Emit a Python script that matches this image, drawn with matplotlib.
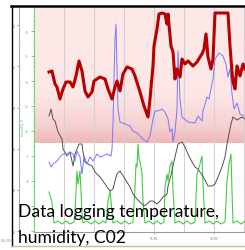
import matplotlib.pyplot as plt
import numpy as np
from matplotlib.colors import LinearSegmentedColormap
from matplotlib.lines import Line2D

# time in hours since start of logging, values on the humidity (green) scale
red_t = [12, 14.4, 16.8, 18.4, 20.8, 23.2, 25.6, 28.8, 31.2, 33.6, 36.0, 38.4, 40.8, 43.2,
         46.4, 48.0, 52.8, 56.8, 59.2, 62.4, 64.8, 66.4, 68.8, 71.2, 74.4, 78.4, 80.8, 84.8,
         88.0, 91.2, 92.8, 95.2, 96.0, 98.4, 100.0, 102.4, 104.8, 106.4, 107.2, 109.6, 111.2,
         112.8, 114.4, 116.8, 118.4, 120.8, 123.2, 127.2, 130.4, 132.8, 134.4, 136.0, 137.6,
         139.2, 141.6, 143.2, 144.8, 155.2, 156.8, 158.4, 159.2, 160.8, 162.4, 164.8, 167.2, 168.8]
red_v = [31.8, 32.0, 29.4, 28.8, 26.4, 28.4, 29.8, 29.8, 28.8, 31.0, 34.0, 32.0, 28.0, 26.8,
         27.8, 30.0, 30.8, 30.4, 28.4, 26.4, 28.8, 30.0, 28.0, 31.4, 32.8, 32.4, 31.0, 27.8,
         25.0, 22.8, 26.4, 33.0, 37.0, 40.4, 43.4, 43.6, 43.4, 41.4, 43.4, 37.0, 35.8,
         30.4, 32.4, 30.8, 34.4, 33.4, 34.0, 33.0, 33.8, 34.8, 35.4, 36.4, 39.4,
         34.8, 32.4, 34.4, 43.6, 43.6, 37.0, 31.8, 29.8, 28.4, 33.0, 31.0, 33.4, 32.4]

blue_t = [12, 13.6, 15.2, 18.4, 20.8, 23.2, 26.4, 28.8, 31.2, 32.8, 34.4, 36.8, 38.4, 40.0,
          42.4, 44.8, 47.2, 50.4, 52.8, 55.2, 58.4, 61.6, 62.4, 63.2, 64.0, 64.8, 65.6, 66.4,
          67.2, 68.8, 72.8, 76.8, 79.2, 82.4, 84.8, 87.2, 90.4, 92.8, 95.2, 96.8, 99.2, 102.4,
          104.8, 107.2, 108.8, 110.4, 111.2, 112.8, 114.4, 115.2, 116.8, 118.4, 123.2, 128.8,
          131.2, 134.4, 135.2, 138.4, 140.0, 143.2, 144.8, 146.4, 148.0, 151.2, 153.6, 155.2,
          156.8, 158.4, 160.0, 162.4, 164.8, 168.0]
blue_v = [13.8, 12.8, 13.4, 14.0, 14.8, 15.4, 15.4, 15.8, 15.4, 14.0, 16.0, 14.8, 11.4, 15.0,
          13.4, 14.8, 14.0, 15.4, 14.8, 15.0, 15.4, 15.0, 16.4, 21.4, 30.4, 38.4, 41.4, 32.4,
          24.4, 21.8, 21.4, 21.0, 20.0, 19.6, 19.0, 18.4, 17.8, 19.0, 22.4, 24.0, 24.0, 24.4,
          23.8, 22.4, 19.8, 20.4, 17.8, 19.8, 24.4, 36.0, 26.4, 22.8, 21.8, 21.6,
          23.0, 22.0, 24.0, 26.8, 26.4, 30.4, 34.4, 35.0, 35.6, 35.0, 33.4, 30.8,
          32.4, 27.4, 24.4, 25.6, 23.4, 23.0]

gray_t = [12, 13.6, 15.2, 16.8, 19.2, 22.4, 23.2, 26.4, 28.8, 31.2, 32.8, 34.4, 36.0, 38.4,
          39.2, 40.8, 43.2, 46.4, 48.8, 52.8, 55.2, 58.4, 60.8, 63.2, 64.8, 66.4, 68.8, 72.8,
          76.8, 79.2, 82.4, 84.8, 88.0, 90.4, 92.8, 95.2, 98.4, 100.8, 103.2, 106.4, 107.2,
          108.8, 110.4, 112.8, 115.2, 118.4, 120.8, 123.2, 126.4, 128.8, 131.2, 134.4, 136.8,
          139.2, 142.4, 144.8, 147.2, 150.4, 152.8, 154.4, 156.0, 157.6, 159.2, 162.4, 166.4, 168.8]
gray_v = [23.0, 24.4, 22.4, 22.0, 19.8, 18.4, 16.4, 15.0, 15.8, 13.0, 15.4, 16.4, 17.4, 17.4,
          15.8, 13.8, 13.4, 13.0, 11.8, 10.8, 10.0, 8.8, 8.0, 8.4, 10.0, 11.4, 12.0, 10.4,
          8.8, 7.4, 6.4, 5.8, 5.0, 5.4, 6.0, 6.0, 5.4, 6.0, 6.8, 7.4, 9.0,
          10.4, 12.0, 14.8, 17.4, 17.8, 16.8, 15.4, 13.8, 12.8, 12.4, 11.2, 10.2,
          9.0, 9.0, 9.4, 10.8, 12.8, 14.8, 17.4, 19.4, 21.4, 22.8, 22.2, 22.8, 22.4]

green_t = [12, 14.4, 15.2, 16.0, 19.2, 22.4, 25.6, 28.8, 32.0, 32.8, 34.4, 35.2, 36.8, 37.6,
           38.4, 39.2, 42.4, 45.6, 48.8, 52.0, 55.2, 57.6, 59.2, 60.8, 62.4, 63.2, 66.4, 69.6,
           72.8, 76.0, 79.2, 80.8, 81.6, 82.4, 83.2, 84.0, 84.8, 86.4, 87.2, 88.8, 92.0, 95.2,
           98.4, 101.6, 104.0, 104.8, 106.4, 107.2, 108.8, 110.4, 111.2, 112.8, 116.0, 119.2,
           122.4, 125.6, 128.8, 130.4, 132.8, 134.4, 135.2, 136.8, 140.0, 143.2, 146.4, 149.6,
           152.8, 154.4, 156.0, 157.6, 158.4, 159.2, 162.4, 165.6, 168.8]
green_v = [7.8, 5.8, 3.4, 1.6, 2.0, 1.4, 2.0, 1.4, 1.8, 4.0, 12.0, 9.4, 12.0, 8.0,
           3.4, 1.6, 2.0, 1.4, 2.0, 1.4, 2.0, 1.6, 6.0, 8.0, 4.0, 1.6, 2.0, 1.4,
           2.0, 1.4, 1.8, 8.8, 13.4, 12.8, 17.4, 14.4, 14.0, 11.4, 6.0, 1.6, 2.0, 1.4,
           2.0, 1.4, 1.8, 8.8, 11.4, 10.0, 13.0, 14.0, 8.0, 1.6, 2.0, 1.4,
           2.0, 1.4, 1.8, 11.4, 13.4, 15.0, 9.4, 1.6, 2.0, 1.4, 2.0, 1.4,
           1.8, 10.0, 13.4, 15.4, 8.0, 1.6, 2.0, 1.4, 2.0]

green_ticks = [0, 5, 10, 15, 20, 25, 30, 35, 40]
green_labels = ["", "", "10", "15", "20", "25", "30", "35", "40"]  # lowest two sit under the caption
gray_ticks = [55, 60, 65, 70, 75, 80]
day_lines = [24, 48, 72, 96, 120, 144, 168]
date_ticks = [96, 144]
date_labels = ["11/01", "11/03"]
alarm_low = 17.6

W, H = 245, 251
fig = plt.figure(figsize=(W / 100, H / 100), dpi=100)


def box(x0, y0, x1, y1):
    return [x0 / W, 1 - y1 / H, (x1 - x0) / W, (y1 - y0) / H]


ax = fig.add_axes(box(34, 9, 245, 233))
ax.set_xlim(0, 168.8)
ax.set_ylim(-0.2, 44.6)

# pink alarm band, darker towards its lower edge
pink = LinearSegmentedColormap.from_list(
    "pink", [(0, "#efb8b8"), (0.12, "#f6d0d0"), (0.35, "#fde6e6"), (1, "#fee9e9")])
ax.imshow(np.linspace(0, 1, 200).reshape(-1, 1), cmap=pink, origin="lower",
          extent=(0, 168.8, alarm_low, 44.6), aspect="auto", zorder=0)

for d in day_lines:
    ax.axvline(d, color="#d6cfcf", lw=0.8, zorder=1)

ax.plot(green_t, green_v, color="#44cc44", lw=0.8, zorder=2)
ax.plot(gray_t, gray_v, color="#505050", lw=0.7, zorder=3)
ax.plot(blue_t, blue_v, color="#7777ff", lw=0.7, zorder=3)
ax.plot(red_t, red_v, color="#b80000", lw=2.2, zorder=4)

for s in ["top", "right"]:
    ax.spines[s].set_visible(False)
ax.spines["left"].set_color("#66dd66")
ax.spines["left"].set_linewidth(0.8)
ax.spines["bottom"].set_color("#999999")
ax.spines["bottom"].set_linewidth(0.8)
ax.set_yticks(green_ticks)
ax.set_yticks(np.arange(0, 45, 1), minor=True)
ax.set_yticklabels(green_labels, fontsize=2.2, color="#55cc55")
ax.tick_params(axis="y", which="major", length=2, width=0.6, color="#55cc55", pad=1.5)
ax.tick_params(axis="y", which="minor", length=1, width=0.4, color="#55cc55")
ax.set_xticks(date_ticks)
ax.set_xticklabels(date_labels, fontsize=2.2, color="#777777")
ax.tick_params(axis="x", length=1.5, width=0.5, color="#999999", pad=1.5)
ax.text(-9, 21, "Humidity %", rotation=90, fontsize=2.2, color="#55cc55",
        ha="center", va="center", clip_on=False)

# gray temperature axis further left
ax2 = fig.add_axes(box(19, 9, 20, 233))
ax2.set_ylim(54.9, 82.1)
ax2.set_xticks([])
ax2.patch.set_visible(False)
for s in ["top", "right", "bottom"]:
    ax2.spines[s].set_visible(False)
ax2.spines["left"].set_color("#aaaaaa")
ax2.spines["left"].set_linewidth(0.8)
ax2.set_yticks(gray_ticks)
ax2.set_yticks(np.arange(55, 82, 2.5), minor=True)
ax2.set_yticklabels([str(v) for v in gray_ticks], fontsize=2.2, color="#777777")
ax2.tick_params(axis="y", which="major", length=1.5, width=0.5, color="#777777", pad=1)
ax2.tick_params(axis="y", which="minor", length=1, width=0.4, color="#999999")

# screenshot frame
fig.add_artist(Line2D([11 / W, 1], [1 - 7 / H, 1 - 7 / H], color="black", lw=1.8))
fig.add_artist(Line2D([12 / W, 12 / W], [1 - 7 / H, 1 - 247 / H], color="black", lw=1.0))
fig.add_artist(Line2D([11 / W, 1], [1 - 247 / H, 1 - 247 / H], color="#c9c08a", lw=1.0))
fig.text(1 / W, 1 - 242 / H, "100.000", fontsize=2, color="#888888")

fig.text(18 / W, 1 - 217 / H, "Data logging temperature,", fontsize=12.6, family="Lato",
         color="black")
fig.text(18 / W, 1 - 243 / H, "humidity, C02", fontsize=12.6, family="Lato", color="black")

fig.savefig("out.png", dpi=100)
